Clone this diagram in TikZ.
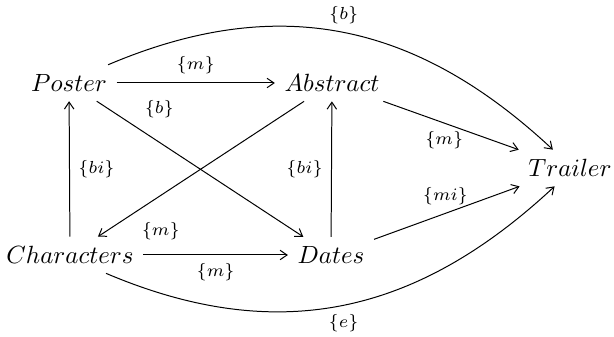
\documentclass[tikz,border=0pt]{standalone}
\usetikzlibrary{arrows.meta}
\begin{document}
\begin{tikzpicture}[x=0.4016pt,y=-0.4016pt,
  obj/.style={inner sep=3.7pt},
  lbl/.style={font=\scriptsize},
  arr/.style={-{Straight Barb[length=2.8pt,width=3.8pt]}}]
\useasboundingbox (0,0) rectangle (614,337);
\node[obj] (P) at (69,83) {$Poster$};
\node[obj] (A) at (332,83) {$Abstract$};
\node[obj] (C) at (70,255) {$Characters$};
\node[obj] (D) at (331,255) {$Dates$};
\node[obj] (T) at (570,168) {$Trailer$};
\draw[arr] (P) -- node[lbl,above] {$\{m\}$} (A);
\draw[arr] (C) -- node[lbl,below] {$\{m\}$} (D);
\draw[arr] (C) -- node[lbl,right] {$\{bi\}$} (P);
\draw[arr] (D) -- node[lbl,left] {$\{bi\}$} (A);
\draw[arr] (P) -- node[lbl,pos=0.19,above right] {$\{b\}$} (D);
\draw[arr] (A) -- node[lbl,pos=0.83,below right] {$\{m\}$} (C);
\draw[arr] (A) -- node[lbl,pos=0.45,below] {$\{m\}$} (T);
\draw[arr] (D) -- node[lbl,pos=0.49,above] {$\{mi\}$} (T);
\draw[arr] (P.25) to[out=23,in=137,looseness=1.05] node[lbl,pos=0.5,above] {$\{b\}$} (T.133);
\draw[arr] (C.-27) to[out=-23,in=-137,looseness=1.05] node[lbl,pos=0.5,below] {$\{e\}$} (T.-130);
\end{tikzpicture}
\end{document}
